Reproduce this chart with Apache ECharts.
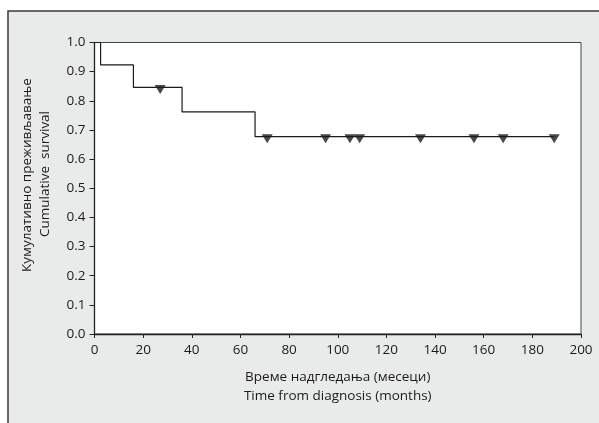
<!DOCTYPE html>
<html>
<head>
<meta charset="utf-8">
<script src="https://cdn.jsdelivr.net/npm/echarts@6/dist/echarts.min.js"></script>
<style>
html,body{margin:0;padding:0;background:#fff;}
#chart{width:599px;height:423px;}
</style>
</head>
<body>
<div id="chart"></div>
<script>
// Kaplan-Meier step points (time in months, cumulative survival)
const stepTimes = [0, 2.5, 16, 36, 66, 189];
const stepSurvival = [1.0, 0.923, 0.846, 0.762, 0.677, 0.677];
// Censored observations
const censorTimes = [27, 71, 95, 105, 109, 134, 156, 168, 189];
const censorSurvival = [0.846, 0.677, 0.677, 0.677, 0.677, 0.677, 0.677, 0.677, 0.677];
// Axis ticks
const xTicks = [0, 20, 40, 60, 80, 100, 120, 140, 160, 180, 200];
const yTicks = [0.0, 0.1, 0.2, 0.3, 0.4, 0.5, 0.6, 0.7, 0.8, 0.9, 1.0];
const xTitle = 'Време надгледања (месеци)\nTime from diagnosis (months)';
const yTitle1 = 'Кумулативно преживљавање';
const yTitle2 = 'Cumulative  survival';

const FONT = '"Open Sans", "Noto Sans", sans-serif';
const TXT = '#1e1a1b';

const chart = echarts.init(document.getElementById('chart'), null, {renderer: 'canvas'});
chart.setOption({
  animation: false,
  backgroundColor: '#ffffff',
  textStyle: {fontFamily: FONT},
  graphic: [
    {type: 'rect', z: -10, silent: true,
     shape: {x: 8, y: 11, width: 620, height: 440},
     style: {fill: '#e9eaea', stroke: '#3a3a3a', lineWidth: 1.5}},
    {type: 'text', z: 10, x: 27, y: 175, rotation: Math.PI / 2,
     style: {text: yTitle1, fill: TXT, font: '13.5px ' + FONT, align: 'center', verticalAlign: 'middle'}},
    {type: 'text', z: 10, x: 45.5, y: 174, rotation: Math.PI / 2,
     style: {text: yTitle2, fill: TXT, font: '13.5px ' + FONT, align: 'center', verticalAlign: 'middle'}}
  ],
  grid: {left: 94.5, top: 42.5, right: 18, bottom: 89, show: true,
         backgroundColor: '#ffffff', borderColor: '#444', borderWidth: 1},
  xAxis: {
    type: 'value', min: xTicks[0], max: xTicks[xTicks.length - 1], interval: 20,
    name: xTitle, nameLocation: 'middle', nameGap: 34,
    nameTextStyle: {color: TXT, fontSize: 13.5, lineHeight: 18.5, fontFamily: FONT},
    axisLine: {show: true, lineStyle: {color: '#222', width: 1.3}},
    axisTick: {show: true, length: 4, lineStyle: {color: '#222', width: 1}},
    axisLabel: {color: TXT, fontSize: 13.5, margin: 9, fontFamily: FONT},
    splitLine: {show: false}
  },
  yAxis: {
    type: 'value', min: yTicks[0], max: yTicks[yTicks.length - 1], interval: 0.1,
    axisLine: {show: true, lineStyle: {color: '#222', width: 1.3}},
    axisTick: {show: true, length: 5, lineStyle: {color: '#222', width: 1}},
    axisLabel: {color: TXT, fontSize: 13.5, margin: 9, fontFamily: FONT,
                formatter: v => v.toFixed(1)},
    splitLine: {show: false}
  },
  series: [
    {type: 'line', step: 'end', showSymbol: false, symbol: 'none',
     data: stepTimes.map((t, i) => [t, stepSurvival[i]]),
     lineStyle: {color: '#1a1a1a', width: 1.2}, z: 3},
    {type: 'scatter', symbol: 'triangle', symbolRotate: 180, symbolSize: [11, 9],
     symbolOffset: [0, 2],
     data: censorTimes.map((t, i) => [t, censorSurvival[i]]),
     itemStyle: {color: '#1a1a1a'}, z: 4}
  ]
});
</script>
</body>
</html>
